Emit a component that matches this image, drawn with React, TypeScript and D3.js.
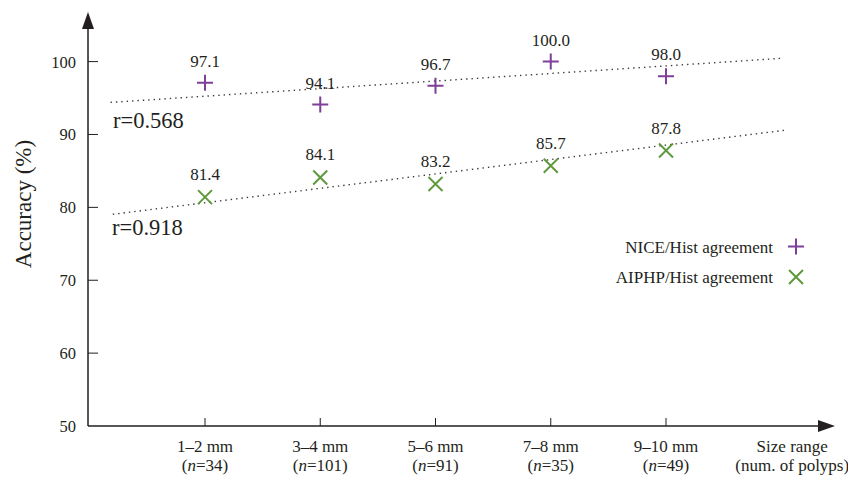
import React, { useEffect, useRef } from "react";
import * as d3 from "d3";

const sizeRanges = ["1–2 mm", "3–4 mm", "5–6 mm", "7–8 mm", "9–10 mm"];
const polypCounts = [34, 101, 91, 35, 49];
const niceValues = [97.1, 94.1, 96.7, 100.0, 98.0];
const aiphpValues = [81.4, 84.1, 83.2, 85.7, 87.8];
const yTicks = [50, 60, 70, 80, 90, 100];
// trend lines as drawn in the figure: [category position, value]
const niceTrend: [number, number][] = [[-0.82, 94.4], [5.0, 100.45]];
const aiphpTrend: [number, number][] = [[-0.8, 79.05], [5.04, 90.6]];
const niceR = "r=0.568";
const aiphpR = "r=0.918";

const PURPLE = "#7f3f98";
const GREEN = "#5e9a3c";
const INK = "#231f20";
const FONT = "'Liberation Serif', 'DejaVu Serif', serif";

const App = () => {
  const svgRef = useRef<SVGSVGElement>(null);

  useEffect(() => {
    const width = 848;
    const height = 477;
    const axisX = 88;
    const axisY = 426;

    const svg = d3.select(svgRef.current);
    svg.selectAll("*").remove();
    svg.attr("width", width).attr("height", height).style("font-family", FONT);

    const x = d3.scaleLinear().domain([0, 4]).range([205, 666]);
    const y = d3.scaleLinear().domain([50, 100]).range([axisY, 61.6]);

    // Axes with arrowheads
    svg.append("line")
      .attr("x1", axisX).attr("x2", axisX)
      .attr("y1", axisY).attr("y2", 26)
      .attr("stroke", INK).attr("stroke-width", 1.5);
    svg.append("path")
      .attr("d", `M${axisX},12 L${axisX - 6},29 L${axisX + 6},29 Z`)
      .attr("fill", INK);
    svg.append("line")
      .attr("x1", axisX).attr("x2", 820)
      .attr("y1", axisY).attr("y2", axisY)
      .attr("stroke", INK).attr("stroke-width", 1.5);
    svg.append("path")
      .attr("d", `M835,${axisY} L818,${axisY - 6} L818,${axisY + 6} Z`)
      .attr("fill", INK);

    // Y ticks
    const yg = svg.append("g");
    yTicks.forEach((t) => {
      if (t > 50) {
        yg.append("line")
          .attr("x1", axisX).attr("x2", axisX + 10)
          .attr("y1", y(t)).attr("y2", y(t))
          .attr("stroke", INK).attr("stroke-width", 1);
      }
      yg.append("text")
        .attr("x", 76)
        .attr("y", y(t) + 6)
        .attr("text-anchor", "end")
        .attr("fill", INK)
        .style("font-size", "16.5px")
        .text(t);
    });

    svg.append("text")
      .attr("transform", `translate(31,204) rotate(-90)`)
      .attr("text-anchor", "middle")
      .attr("fill", INK)
      .style("font-size", "23px")
      .text("Accuracy (%)");

    // X ticks and labels
    sizeRanges.forEach((label, i) => {
      svg.append("line")
        .attr("x1", x(i)).attr("x2", x(i))
        .attr("y1", axisY).attr("y2", axisY - 8)
        .attr("stroke", INK).attr("stroke-width", 1);
      svg.append("text")
        .attr("x", x(i)).attr("y", 452)
        .attr("text-anchor", "middle").attr("fill", INK)
        .style("font-size", "17px")
        .text(label);
      const t = svg.append("text")
        .attr("x", x(i)).attr("y", 471)
        .attr("text-anchor", "middle").attr("fill", INK)
        .style("font-size", "17px");
      t.append("tspan").text("(");
      t.append("tspan").style("font-style", "italic").text("n");
      t.append("tspan").text(`=${polypCounts[i]})`);
    });
    svg.append("text")
      .attr("x", x(5) + 11).attr("y", 452)
      .attr("text-anchor", "middle").attr("fill", INK)
      .style("font-size", "17px")
      .text("Size range");
    svg.append("text")
      .attr("x", x(5) + 11).attr("y", 471)
      .attr("text-anchor", "middle").attr("fill", INK)
      .style("font-size", "17px")
      .text("(num. of polyps)");

    // Trend lines
    const trendLine = d3.line<[number, number]>()
      .x((d) => x(d[0]))
      .y((d) => y(d[1]));
    [niceTrend, aiphpTrend].forEach((tr) => {
      svg.append("path")
        .attr("d", trendLine(tr))
        .attr("fill", "none")
        .attr("stroke", "#3a3a3a")
        .attr("stroke-width", 1.4)
        .attr("stroke-dasharray", "1.4,4");
    });

    svg.append("text")
      .attr("x", 113).attr("y", 128)
      .attr("fill", INK).style("font-size", "22.5px")
      .text(niceR);
    svg.append("text")
      .attr("x", 112).attr("y", 235)
      .attr("fill", INK).style("font-size", "22.5px")
      .text(aiphpR);

    const plus = (g: any, cx: number, cy: number, s: number) => {
      g.append("path")
        .attr("d", `M${cx - s},${cy} H${cx + s} M${cx},${cy - s} V${cy + s}`)
        .attr("stroke", PURPLE).attr("stroke-width", 2).attr("fill", "none");
    };
    const cross = (g: any, cx: number, cy: number, s: number) => {
      g.append("path")
        .attr("d", `M${cx - s},${cy - s} L${cx + s},${cy + s} M${cx - s},${cy + s} L${cx + s},${cy - s}`)
        .attr("stroke", GREEN).attr("stroke-width", 2).attr("fill", "none");
    };

    // Points and value labels
    niceValues.forEach((v, i) => {
      plus(svg, x(i), y(v), 8);
      svg.append("text")
        .attr("x", x(i)).attr("y", y(v) - 16)
        .attr("text-anchor", "middle").attr("fill", INK)
        .style("font-size", "17px")
        .text(v.toFixed(1));
    });
    aiphpValues.forEach((v, i) => {
      cross(svg, x(i), y(v), 7);
      svg.append("text")
        .attr("x", x(i)).attr("y", y(v) - 17)
        .attr("text-anchor", "middle").attr("fill", INK)
        .style("font-size", "17px")
        .text(v.toFixed(1));
    });

    // Legend
    const legend = [
      { label: "NICE/Hist agreement", draw: plus, ly: 246.5 },
      { label: "AIPHP/Hist agreement", draw: cross, ly: 277 },
    ];
    legend.forEach((d) => {
      svg.append("text")
        .attr("x", 773).attr("y", d.ly + 6)
        .attr("text-anchor", "end").attr("fill", INK)
        .style("font-size", "17px")
        .text(d.label);
      d.draw(svg, 796, d.ly, d.draw === plus ? 8 : 7);
    });
  }, []);

  return (
    <svg
      ref={svgRef}
      style={{ position: "absolute", left: 0, top: 0, display: "block" }}
    ></svg>
  );
};

export default App;
